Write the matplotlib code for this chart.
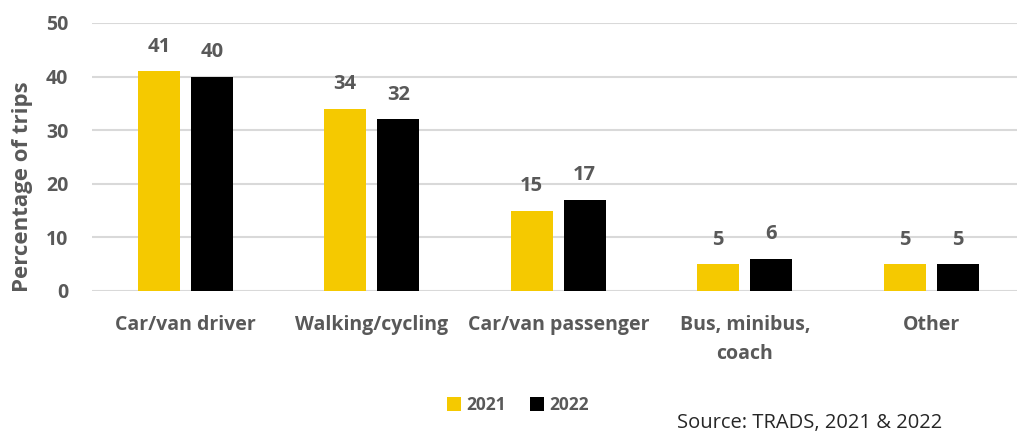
import matplotlib
matplotlib.use("Agg")
import matplotlib.pyplot as plt
import numpy as np
from matplotlib.patches import Patch

# -------------------------------
# DATA
# -------------------------------
categories = ["Car/van driver", "Walking/cycling", "Car/van passenger",
              "Bus, minibus,\ncoach", "Other"]
years = ["2021", "2022"]
values_2021 = [41, 34, 15, 5, 5]
values_2022 = [40, 32, 17, 6, 5]
y_ticks = [0, 10, 20, 30, 40, 50]

YELLOW = "#F5C900"
BLACK = "#000000"
GREY = "#595959"
GRID = "#D9D9D9"

plt.rcParams["font.family"] = ["Open Sans", "DejaVu Sans"]

W, H = 1017, 432
fig = plt.figure(figsize=(W / 100, H / 100), dpi=100)

# axes placed in pixel terms
left, right, top, bottom = 92, 1017, 23, 291
ax = fig.add_axes([left / W, 1 - bottom / H, (right - left) / W, (bottom - top) / H])

step = 186.5  # pixels per category
x = np.arange(len(categories))
bw = 42 / step
off = 26.5 / step

ax.bar(x - off, values_2021, width=bw, color=YELLOW, zorder=3)
ax.bar(x + off, values_2022, width=bw, color=BLACK, zorder=3)

# value labels
for xi, v in zip(x, values_2021):
    ax.annotate(str(v), (xi - off, v), xytext=(0, 10.5), textcoords="offset points",
                ha="center", va="bottom", fontsize=14.5, fontweight="bold", color=GREY)
for xi, v in zip(x, values_2022):
    ax.annotate(str(v), (xi + off, v), xytext=(0, 10.5), textcoords="offset points",
                ha="center", va="bottom", fontsize=14.5, fontweight="bold", color=GREY)

ax.set_xlim(-0.5, (right - left) / step - 0.5)
ax.set_ylim(0, 50)
ax.set_yticks(y_ticks)
ax.set_yticklabels([str(t) for t in y_ticks], fontsize=14, fontweight="bold", color=GREY)
ax.set_xticks(x)
ax.set_xticklabels(categories, fontsize=14, fontweight="bold", color=GREY,
                   linespacing=1.6, va="top")
ax.tick_params(axis="both", length=0)
ax.tick_params(axis="x", pad=17)
ax.tick_params(axis="y", pad=17)

ax.grid(axis="y", color=GRID, linewidth=1.5, zorder=0)
for s in ax.spines.values():
    s.set_visible(False)

ax.set_ylabel("Percentage of trips", fontsize=16, fontweight="bold", color=GREY)
ax.yaxis.set_label_coords(-(left - 33) / (right - left), 0.39)

handles = [Patch(facecolor=YELLOW), Patch(facecolor=BLACK)]
leg = fig.legend(handles, years, loc="center", bbox_to_anchor=(518 / W, 1 - 405 / H),
                 ncol=2, frameon=False, handlelength=0.8, handleheight=0.8,
                 handletextpad=0.3, columnspacing=1.4,
                 prop={"size": 12.5, "weight": "bold"})
for t in leg.get_texts():
    t.set_color(GREY)

fig.text(810 / W, 1 - 423 / H, "Source: TRADS, 2021 & 2022", ha="center",
         va="center", fontsize=14.5, color="#262626")

fig.savefig("out.png", dpi=100)
